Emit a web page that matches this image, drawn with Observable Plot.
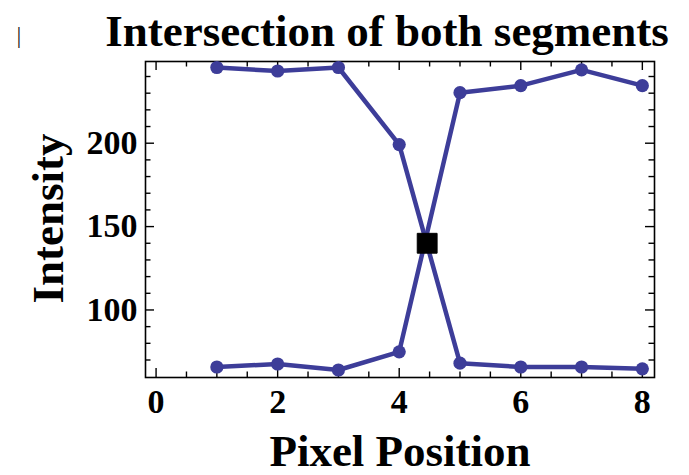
<!DOCTYPE html>
<html>
<head>
<meta charset="utf-8">
<script src="https://cdn.jsdelivr.net/npm/d3@7"></script>
<script src="https://cdn.jsdelivr.net/npm/@observablehq/plot@0.6"></script>
<style>
  html, body { margin: 0; padding: 0; background: #fff; }
</style>
</head>
<body>
<div id="chart"></div>
<script>
// ---- data ----
const pixels = [1, 2, 3, 4, 5, 6, 7, 8];
const segmentA = [245.4, 243.3, 245.4, 199.2, 68.1, 65.8, 65.8, 64.7];
const segmentB = [65.8, 67.6, 64.0, 74.9, 230.3, 234.5, 244.0, 234.5];
const intersection = [{x: 4.46, y: 140}];
const xMajorTicks = [0, 2, 4, 6, 8];
const xMinorTicks = [0.5, 1, 1.5, 2.5, 3, 3.5, 4.5, 5, 5.5, 6.5, 7, 7.5];
const yMajorTicks = [100, 150, 200];
const yMinorTicks = [70, 80, 90, 110, 120, 130, 140, 160, 170, 180, 190, 210, 220, 230, 240];
const titleText = "Intersection of both segments";
const xLabel = "Pixel Position";
const yLabel = "Intensity";

const seriesA = pixels.map((p, i) => ({x: p, y: segmentA[i]}));
const seriesB = pixels.map((p, i) => ({x: p, y: segmentB[i]}));

const W = 689, H = 475;
const mL = 145, mR = 35, mT = 61, mB = 98;
const innerW = W - mL - mR, innerH = H - mT - mB;
const major = 9, minor = 5.5;
const blue = "#3d3d99";
const serif = "'Liberation Serif', 'Times New Roman', serif";

const chart = Plot.plot({
  width: W,
  height: H,
  marginLeft: mL,
  marginRight: mR,
  marginTop: mT,
  marginBottom: mB,
  style: {fontFamily: serif, fontWeight: "bold", background: "#fff", color: "#000", overflow: "visible"},
  x: {domain: [-0.174, 8.2]},
  y: {domain: [59.5, 249]},
  marks: [
    // inward ticks, bottom & top
    Plot.tickX(xMajorTicks, {x: d => d, insetTop: innerH - major, stroke: "#000", strokeWidth: 1.4}),
    Plot.tickX(xMinorTicks, {x: d => d, insetTop: innerH - minor, stroke: "#000", strokeWidth: 1.4}),
    Plot.tickX(xMajorTicks, {x: d => d, insetBottom: innerH - major, stroke: "#000", strokeWidth: 1.4}),
    Plot.tickX(xMinorTicks, {x: d => d, insetBottom: innerH - minor, stroke: "#000", strokeWidth: 1.4}),
    // inward ticks, left & right
    Plot.tickY(yMajorTicks, {y: d => d, insetRight: innerW - major, stroke: "#000", strokeWidth: 1.4}),
    Plot.tickY(yMinorTicks, {y: d => d, insetRight: innerW - minor, stroke: "#000", strokeWidth: 1.4}),
    Plot.tickY(yMajorTicks, {y: d => d, insetLeft: innerW - major, stroke: "#000", strokeWidth: 1.4}),
    Plot.tickY(yMinorTicks, {y: d => d, insetLeft: innerW - minor, stroke: "#000", strokeWidth: 1.4}),
    Plot.frame({stroke: "#000", strokeWidth: 1.6}),
    // tick labels
    Plot.axisX({ticks: xMajorTicks, tickSize: 0, tickPadding: 11, fontSize: 34, label: null, tickFormat: d => String(d)}),
    Plot.axisY({ticks: yMajorTicks, tickSize: 0, tickPadding: 8, fontSize: 34, label: null, tickFormat: d => String(d)}),
    // data
    Plot.line(seriesA, {x: "x", y: "y", stroke: blue, strokeWidth: 4.5, strokeLinejoin: "round"}),
    Plot.line(seriesB, {x: "x", y: "y", stroke: blue, strokeWidth: 4.5, strokeLinejoin: "round"}),
    Plot.dot(seriesA, {x: "x", y: "y", r: 6.6, fill: blue, stroke: "none"}),
    Plot.dot(seriesB, {x: "x", y: "y", r: 6.6, fill: blue, stroke: "none"}),
    Plot.dot(intersection, {x: "x", y: "y", symbol: "square", r: 11.2, fill: "#000", stroke: "#000", strokeWidth: 1, strokeLinejoin: "round"}),
    // titles
    Plot.text([titleText], {frameAnchor: "top", dx: -13, dy: -16, lineAnchor: "bottom", fontSize: 45, fontWeight: "bold", fill: "#000"}),
    Plot.text([xLabel], {frameAnchor: "bottom", dy: 88, lineAnchor: "bottom", fontSize: 45, fontWeight: "bold", fill: "#000"}),
    Plot.text([yLabel], {frameAnchor: "left", dx: -83, dy: -1, rotate: -90, textAnchor: "middle", lineAnchor: "bottom", fontSize: 45, fontWeight: "bold", fill: "#000"}),
    Plot.text(["|"], {frameAnchor: "top-left", dx: -129, dy: -19, lineAnchor: "bottom", fontSize: 24, fontWeight: "normal", fill: "#222"})
  ]
});

document.getElementById("chart").appendChild(chart);
</script>
</body>
</html>
